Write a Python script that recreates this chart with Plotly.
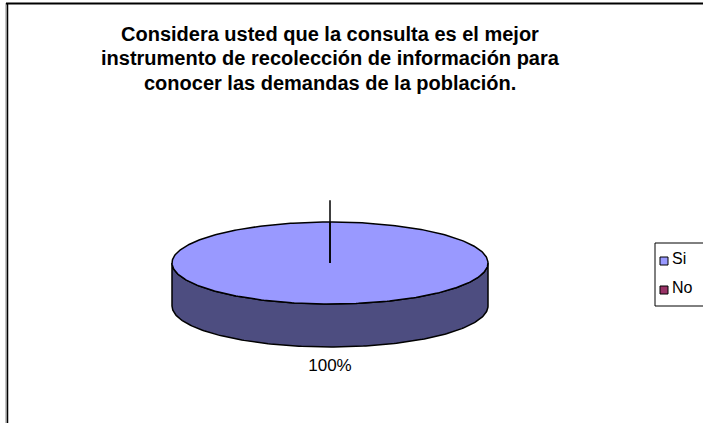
import numpy as np
import plotly.graph_objects as go

# ---- data ----
title_lines = [
    "Considera usted que la consulta es el mejor",
    "instrumento de recolección de información para",
    "conocer las demandas de la población.",
]
labels = ["Si", "No"]
values = [100, 0]
colors = ["#9999FF", "#993366"]
side_colors = ["#4D4D80", "#4D1A33"]

# ---- geometry (pixels) ----
W, H = 703, 423
cx, cy = 330, 263
a, b = 158, 41
depth = 43
FONT = "Liberation Sans, Arial"


def ell(theta_deg, dy=0.0, r=1.0):
    t = np.radians(theta_deg)
    return cx + r * a * np.sin(t), cy - r * b * np.cos(t) + dy


fig = go.Figure()
total = sum(values)
fracs = [v / total for v in values]

# side walls (front half) per slice
start = 0.0
for lab, f, sc in zip(labels, fracs, side_colors):
    if f <= 0:
        start += f * 360
        continue
    s, e = start, start + f * 360
    lo, hi = max(s, 90), min(e, 270)
    if hi > lo:
        th = np.linspace(lo, hi, 200)
        x1, y1 = ell(th)
        x2, y2 = ell(th[::-1], dy=depth)
        xs = np.concatenate([x1, x2, x1[:1]])
        ys = np.concatenate([y1, y2, y1[:1]])
        fig.add_trace(go.Scatter(x=xs, y=ys, mode="lines", fill="toself",
                                 fillcolor=sc, line=dict(color="black", width=1.5),
                                 hoverinfo="skip", showlegend=False))
    start = e

# top faces
start = 0.0
for lab, f, c in zip(labels, fracs, colors):
    if f <= 0:
        start += f * 360
        continue
    th = np.linspace(start, start + f * 360, 400)
    x, y = ell(th)
    xs = np.concatenate([[cx], x, [cx]])
    ys = np.concatenate([[cy], y, [cy]])
    fig.add_trace(go.Scatter(x=xs, y=ys, mode="lines", fill="toself",
                             fillcolor=c, line=dict(color="black", width=1.5),
                             hoverinfo="skip", showlegend=False))
    ex, ey = ell(start, r=1.53)
    fig.add_trace(go.Scatter(x=[cx, ex], y=[cy, ey], mode="lines",
                             line=dict(color="black", width=1.5),
                             hoverinfo="skip", showlegend=False))
    mid = start + f * 180
    lx, ly = ell(mid, dy=depth, r=1.49)
    fig.add_trace(go.Scatter(x=[lx], y=[ly], mode="text",
                             text=[f"{round(f*100)}%"],
                             textfont=dict(family=FONT, size=17, color="black"),
                             hoverinfo="skip", showlegend=False))
    start += f * 360

# legend (manual)
leg_x, leg_y0, leg_dy = 664, 261, 29
for i, (lab, c) in enumerate(zip(labels, colors)):
    fig.add_trace(go.Scatter(x=[leg_x], y=[leg_y0 + i * leg_dy], mode="markers",
                             marker=dict(symbol="square", size=8, color=c,
                                         line=dict(color="black", width=1)),
                             hoverinfo="skip", showlegend=False))
    fig.add_trace(go.Scatter(x=[672], y=[leg_y0 - 1 + i * leg_dy], mode="text",
                             text=[lab], textposition="middle right",
                             textfont=dict(family=FONT, size=16, color="black"),
                             hoverinfo="skip", showlegend=False))

shapes = [
    dict(type="rect", xref="x", yref="y", x0=655, x1=712, y0=243, y1=306,
         line=dict(color="black", width=1), fillcolor="rgba(0,0,0,0)", layer="below"),
    dict(type="line", xref="x", yref="y", x0=6, x1=6, y0=3, y1=430,
         line=dict(color="#888888", width=1)),
    dict(type="line", xref="x", yref="y", x0=7.5, x1=7.5, y0=3, y1=430,
         line=dict(color="black", width=1.5)),
    dict(type="line", xref="x", yref="y", x0=6, x1=710, y0=3.5, y1=3.5,
         line=dict(color="black", width=2)),
]

annotations = []
for i, t in enumerate(title_lines):
    annotations.append(dict(x=330, y=33.5 + i * 24.5, xref="x", yref="y", text=f"<b>{t}</b>",
                            showarrow=False, xanchor="center", yanchor="middle",
                            font=dict(family=FONT, size=20, color="black")))

fig.update_layout(
    width=W, height=H,
    margin=dict(l=0, r=0, t=0, b=0),
    paper_bgcolor="white", plot_bgcolor="white",
    xaxis=dict(range=[0, W], visible=False, fixedrange=True),
    yaxis=dict(range=[H, 0], visible=False, fixedrange=True),
    shapes=shapes, annotations=annotations,
    showlegend=False,
)

fig.write_html("out.html", config={"displayModeBar": False},
               post_script="document.body.style.margin='0';document.body.style.overflow='hidden';")
